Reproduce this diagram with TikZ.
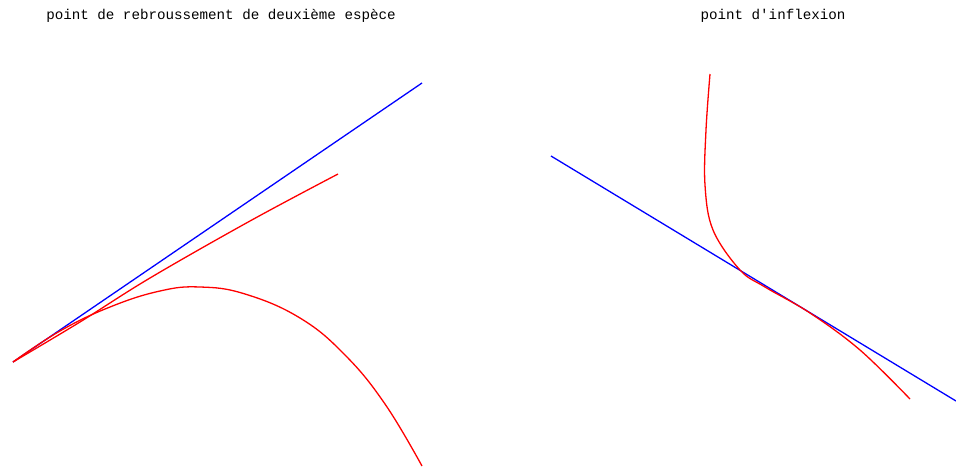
\documentclass[tikz,border=0pt]{standalone}
\usepackage{fontspec}
\setmonofont{Liberation Mono}
\begin{document}
\begin{tikzpicture}[x=1pt,y=-1pt,
  title/.style={font=\ttfamily\fontsize{14.2}{16}\selectfont, inner sep=0pt},
  tangent/.style={draw=blue, line width=1.3pt, line join=round},
  curve/.style={draw=red, line width=1.3pt, line join=round}]
\useasboundingbox (0,0) rectangle (956,466);
\node[title] (t1) at (221,16) {point de rebroussement de deuxième espèce};
\node[title] (t2) at (773,16) {point d'inflexion};
% left: cusp of second kind
\coordinate (c0) at (13,362);
\coordinate (b1) at (422,83);
\coordinate (r1) at (338,174);
\coordinate (r2) at (422,466);
\draw[tangent] (c0) -- (b1);
\draw[curve] plot[smooth, tension=0.6] coordinates {(13,362) (80,322) (150,278) (250,221) (338,174)};
\draw[curve] plot[smooth, tension=0.7] coordinates {(13,362) (60,331) (110,307) (160,291) (200,287) (245,294) (300,318) (345,355) (385,404) (422,466)};
% right: inflection point
\coordinate (b2a) at (551,156);
\coordinate (b2b) at (956,401);
\draw[tangent] (b2a) -- (b2b);
\draw[curve] plot[smooth, tension=0.6] coordinates {(710,74) (706,130) (705,185) (713,230) (740,270) (765,287) (810,313) (860,350) (910,399)};
\end{tikzpicture}
\end{document}
